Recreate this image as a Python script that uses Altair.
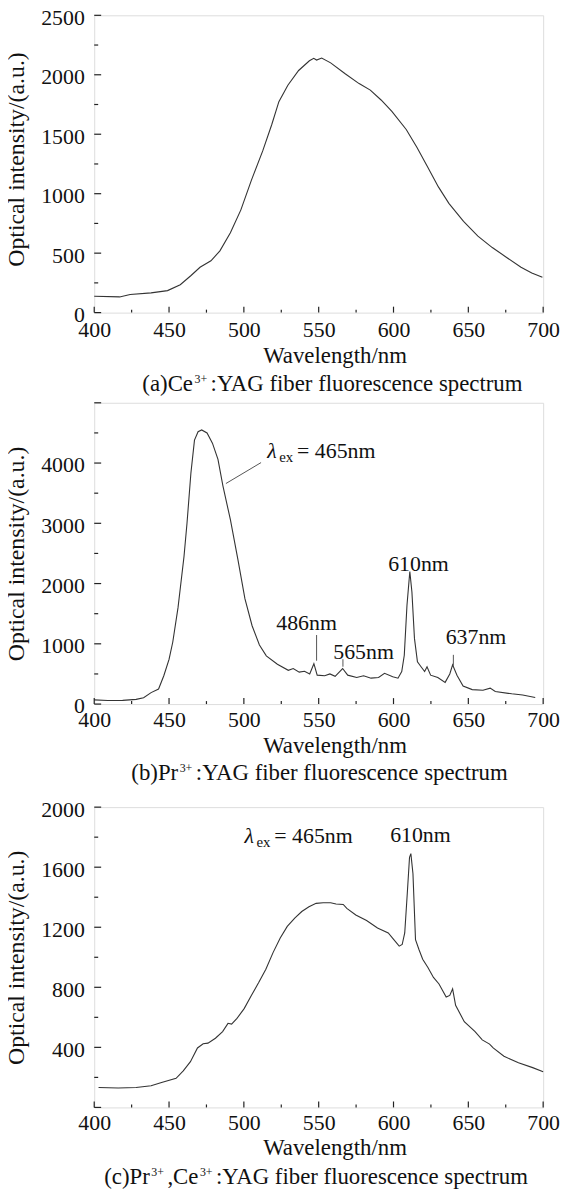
import altair as alt
import pandas as pd

FONT = "Liberation Serif"
TXT = "#111111"
LINE = "#333333"

# ---------------- data ----------------
# (a) Ce3+:YAG
wl_a = [400, 417, 424, 438, 449, 457.5, 464.7, 470.7, 478, 484, 491, 498, 505, 512.6,
        518.6, 523.4, 529.4, 536.6, 543.8, 546.7, 548.6, 552, 558, 567.7, 577, 584.5,
        591.7, 598.9, 608.5, 615.7, 622.9, 630, 637, 646.8, 656.4, 666, 675.6, 685.2,
        692.4, 699.5]
int_a = [138, 132, 152, 166, 185, 235, 312, 381, 436, 519, 671, 864, 1112, 1360,
         1580, 1774, 1912, 2036, 2118, 2138, 2124, 2141, 2100, 2009, 1926, 1871,
         1788, 1692, 1540, 1388, 1222, 1057, 919, 768, 643, 547, 464, 381,
         334, 298]

# (b) Pr3+:YAG
wl_b = [400, 409, 419, 428, 433, 438, 443, 446.5, 450, 452.5, 456, 460, 462, 464.6,
        467, 469.4, 471.8, 475.4, 479, 482.7, 486, 491, 496, 500.7, 505.5, 510.4,
        515, 522.4, 529.7, 533, 537, 540.5, 544, 546.8, 549, 554, 557.5, 561, 566,
        569.4, 575.4, 580, 585, 590, 594, 599.5, 603, 605.5, 607.2, 609, 610.9, 612.3,
        614, 616, 618.4, 620.8, 622.4, 624.8, 629.6, 634.5, 637.6, 639.5, 642.4,
        646.5, 652.6, 659.8, 664.6, 668, 679, 686.3, 694.7]
int_b = [70, 60, 62, 78, 105, 190, 250, 470, 740, 1030, 1600, 2450, 3000, 3830,
         4380, 4520, 4550, 4500, 4330, 4060, 3620, 3060, 2400, 1750, 1300, 980,
         800, 660, 560, 590, 530, 545, 500, 670, 480, 470, 500, 460, 590,
         480, 440, 470, 430, 440, 510, 455, 430, 540, 810, 1640, 2200, 1860,
         1090, 700, 620, 540, 620, 480, 440, 360, 500, 650, 480,
         300, 240, 230, 265, 210, 170, 150, 110]

# (c) Pr3+,Ce3+:YAG
wl_c = [402.9, 416, 428, 438, 445, 454.7, 459.5, 464.3, 469, 472.8, 476, 481, 485.8,
        489.4, 491.8, 495.4, 500.2, 505, 510, 514.7, 519.5, 524.3, 529, 534, 538.7,
        543.5, 548.3, 553, 558, 561.6, 566.4, 568.8, 574.8, 582, 589.3, 596.5, 600.2,
        603.8, 605.8, 607.5, 609.2, 610.7, 611.6, 613, 614.7, 617, 619.5, 623, 626.7,
        630.4, 635.2, 637.6, 639.5, 641.5, 647.3, 654.5, 659.3, 664.2, 666.6, 673.8,
        683.5, 693, 700]
int_c = [133, 129, 133, 144, 166, 194, 243, 305, 396, 424, 428, 461, 505,
         560, 555, 593, 658, 746, 833, 921, 1031, 1129, 1206, 1261, 1305,
         1337, 1359, 1363, 1363, 1355, 1352, 1326, 1282, 1245, 1195, 1162, 1118,
         1074, 1085, 1162, 1425, 1666, 1690, 1556, 1118, 1052, 987, 932, 866,
         822, 735, 746, 790, 680, 571, 505, 450, 422, 396, 341,
         297, 265, 238]

# axes
x_major = [400, 450, 500, 550, 600, 650, 700]
x_minor = [425, 475, 525, 575, 625, 675]
y_major_a = [0, 500, 1000, 1500, 2000, 2500]
y_minor_a = [250, 750, 1250, 1750, 2250]
y_labels_a = [0, 500, 1000, 1500, 2000, 2500]
y_major_b = [0, 1000, 2000, 3000, 4000, 5000]
y_minor_b = [500, 1500, 2500, 3500, 4500]
y_labels_b = [0, 1000, 2000, 3000, 4000]
y_major_c = [0, 400, 800, 1200, 1600, 2000]
y_minor_c = [200, 600, 1000, 1400, 1800]
y_labels_c = [400, 800, 1200, 1600, 2000]

# annotations (b)
peak_text_b = ["486nm", "565nm", "610nm", "637nm"]
peak_text_wl_b = [541.9, 580.0, 616.7, 655.1]
peak_text_int_b = [1229, 752, 2215, 998]
lead_wl_b = [548.6, 566.2, 640.0]
lead_lo_b = [719, 620, 636]
lead_hi_b = [1146, 745, 817]
lam_wl_b, lam_int_b = 515.7, 4090
lam_lead_wl_b = [488.0, 511.5]
lam_lead_int_b = [3660, 4008]
# annotations (c)
lam_wl_c, lam_int_c = 500.5, 1761
peak_text_c = ["610nm"]
peak_text_wl_c = [618.0]
peak_text_int_c = [1768]

captions = {
    "a": [("(a)Ce", "m"), ("3+", "s"), (":YAG fiber fluorescence spectrum", "m")],
    "b": [("(b)Pr", "m"), ("3+", "s"), (":YAG fiber fluorescence spectrum", "m")],
    "c": [("(c)Pr", "m"), ("3+", "s"), (",Ce", "m"), ("3+", "s"),
          (":YAG fiber fluorescence spectrum", "m")],
}

# ---------------- layout helpers ----------------
W = 453
TICK_FS = 22
TITLE_FS = 23
YTITLE_FS = 24
CAP_FS = 23
SUP_FS = 12
ANN_FS = 22

_w = {' ': 250, '(': 333, ')': 333, '+': 564, ',': 250, '.': 250, '/': 278, ':': 278,
      '=': 564, 'A': 722, 'C': 667, 'G': 722, 'P': 556, 'Y': 722,
      'a': 444, 'b': 500, 'c': 444, 'e': 444, 'f': 333, 'i': 278, 'l': 278, 'm': 778,
      'n': 500, 'o': 500, 'p': 500, 'r': 333, 's': 389, 't': 278, 'u': 500}


def tw(s, size):
    return sum(_w.get(ch, 500) for ch in s) / 1000.0 * size


one = pd.DataFrame({"k": [0]})
xs = alt.Scale(domain=[400, 700], nice=False, zero=False)


def text_px(t, x, y, size):
    return alt.Chart(one).mark_text(
        text=t, font=FONT, fontSize=size, color=TXT, align="left", baseline="alphabetic"
    ).encode(x=alt.value(x), y=alt.value(y))


def caption_layers(segs, center, base_y):
    widths = [tw(t, CAP_FS) if k == "m" else tw(t, SUP_FS) + 5 for t, k in segs]
    x = center - sum(widths) / 2
    out = []
    for (t, k), w in zip(segs, widths):
        if k == "m":
            out.append(text_px(t, x, base_y, CAP_FS))
        else:
            out.append(text_px(t, x + 1.5, base_y - 8, SUP_FS))
        x += w
    return out


def lam_layers(wl, inten, ys):
    d = pd.DataFrame({"wl": [wl], "I": [inten]})
    enc = dict(x=alt.X("wl:Q", scale=xs), y=alt.Y("I:Q", scale=ys))
    base = dict(font=FONT, color=TXT, align="left", baseline="alphabetic")
    return [
        alt.Chart(d).mark_text(text="λ", fontSize=ANN_FS, fontStyle="italic", **base).encode(**enc),
        alt.Chart(d).mark_text(text="ex", fontSize=15, dx=12, dy=4, **base).encode(**enc),
        alt.Chart(d).mark_text(text="= 465nm", fontSize=ANN_FS, dx=30, **base).encode(**enc),
    ]


def panel(wl, inten, ymax, ymaj, ymin, ylabels, H, lab_off, title_off, cap_off,
          cap_key, cap_center, extra, ytitle_shift=0, extend=None):
    ys = alt.Scale(domain=[0, ymax], nice=False, zero=False)
    df = pd.DataFrame({"wl": wl, "I": inten})
    main = alt.Chart(df).mark_line(color=LINE, strokeWidth=1.1).encode(
        x=alt.X("wl:Q", scale=xs, axis=alt.Axis(
            values=x_major, format="d", ticks=False, tickSize=0, domain=False, grid=False,
            labelFont=FONT, labelFontSize=TICK_FS, labelColor=TXT, labelPadding=lab_off,
            labelBaseline="alphabetic", labelFlush=False, labelOverlap=False,
            title="Wavelength/nm", titleFont=FONT, titleFontSize=TITLE_FS,
            titleFontWeight="normal", titleColor=TXT, titleX=242.5, titleY=title_off,
            titleBaseline="alphabetic", titleAlign="center")),
        y=alt.Y("I:Q", scale=ys, axis=alt.Axis(
            values=ylabels, format="d", ticks=False, tickSize=0, domain=False, grid=False,
            labelFont=FONT, labelFontSize=TICK_FS, labelColor=TXT, labelPadding=10,
            labelOffset=2, labelFlush=False, labelOverlap=False,
            title="Optical intensity/(a.u.)", titleFont=FONT, titleFontSize=YTITLE_FS,
            titleFontWeight="normal", titleColor=TXT, titleX=-71, titleY=H / 2 + ytitle_shift,
            titleAngle=270, titleBaseline="alphabetic", titleAlign="center")),
    )
    tick_style = dict(color="#222222", strokeWidth=1.2)
    xt_major = alt.Chart(pd.DataFrame({"wl": x_major})).mark_rule(**tick_style).encode(
        x=alt.X("wl:Q", scale=xs), y=alt.value(H), y2=alt.value(H - 6))
    xt_minor = alt.Chart(pd.DataFrame({"wl": x_minor})).mark_rule(**tick_style).encode(
        x=alt.X("wl:Q", scale=xs), y=alt.value(H), y2=alt.value(H - 3))
    yt_major = alt.Chart(pd.DataFrame({"I": ymaj})).mark_rule(**tick_style).encode(
        y=alt.Y("I:Q", scale=ys), x=alt.value(0), x2=alt.value(7))
    yt_minor = alt.Chart(pd.DataFrame({"I": ymin})).mark_rule(**tick_style).encode(
        y=alt.Y("I:Q", scale=ys), x=alt.value(0), x2=alt.value(4))
    layers = [main, xt_major, xt_minor, yt_major, yt_minor]
    layers += extra(ys)
    layers += caption_layers(captions[cap_key], cap_center, H + cap_off)
    if extend:
        # invisible spacer that only enlarges this panel's bounds downward
        layers.append(alt.Chart(one).mark_rule(strokeOpacity=0, strokeWidth=1).encode(
            x=alt.value(2), y=alt.value(H), y2=alt.value(H + extend)))
    return alt.layer(*layers).properties(width=W, height=H)


def extra_a(ys):
    return []


def extra_b(ys):
    pk = pd.DataFrame({"t": peak_text_b, "wl": peak_text_wl_b, "I": peak_text_int_b})
    labels = alt.Chart(pk).mark_text(font=FONT, fontSize=ANN_FS, color=TXT, align="center",
                                     baseline="alphabetic").encode(
        x=alt.X("wl:Q", scale=xs), y=alt.Y("I:Q", scale=ys), text="t:N")
    ld = pd.DataFrame({"wl": lead_wl_b, "lo": lead_lo_b, "hi": lead_hi_b})
    leads = alt.Chart(ld).mark_rule(color="#555555", strokeWidth=1).encode(
        x=alt.X("wl:Q", scale=xs), y=alt.Y("lo:Q", scale=ys), y2="hi:Q")
    lam_lead = alt.Chart(pd.DataFrame({"wl": [lam_lead_wl_b[0]], "wl2": [lam_lead_wl_b[1]],
                                       "I": [lam_lead_int_b[0]], "I2": [lam_lead_int_b[1]]})
                         ).mark_rule(color="#555555", strokeWidth=1).encode(
        x=alt.X("wl:Q", scale=xs), x2="wl2:Q", y=alt.Y("I:Q", scale=ys), y2="I2:Q")
    return [leads, lam_lead, labels] + lam_layers(lam_wl_b, lam_int_b, ys)


def extra_c(ys):
    pk = pd.DataFrame({"t": peak_text_c, "wl": peak_text_wl_c, "I": peak_text_int_c})
    labels = alt.Chart(pk).mark_text(font=FONT, fontSize=ANN_FS, color=TXT, align="center",
                                     baseline="alphabetic").encode(
        x=alt.X("wl:Q", scale=xs), y=alt.Y("I:Q", scale=ys), text="t:N")
    return [labels] + lam_layers(lam_wl_c, lam_int_c, ys)


pa = panel(wl_a, int_a, 2500, y_major_a, y_minor_a, y_labels_a, 300, 24, 50, 79, "a", 241.7,
           extra_a, ytitle_shift=-5)
pb = panel(wl_b, int_b, 5000, y_major_b, y_minor_b, y_labels_b, 304, 23, 49, 77, "b", 228.7,
           extra_b, extend=89)
pc = panel(wl_c, int_c, 2000, y_major_c, y_minor_c, y_labels_c, 303, 22, 48, 77, "c", 225.2,
           extra_c)

chart = alt.vconcat(pa, pb, pc, spacing=4).properties(
    padding={"left": -4, "top": -8, "right": 0, "bottom": 0}
).configure_view(stroke="#222222", strokeWidth=1.6).configure(background="white")

chart.save("out.html", embed_options={"renderer": "svg", "actions": False})
